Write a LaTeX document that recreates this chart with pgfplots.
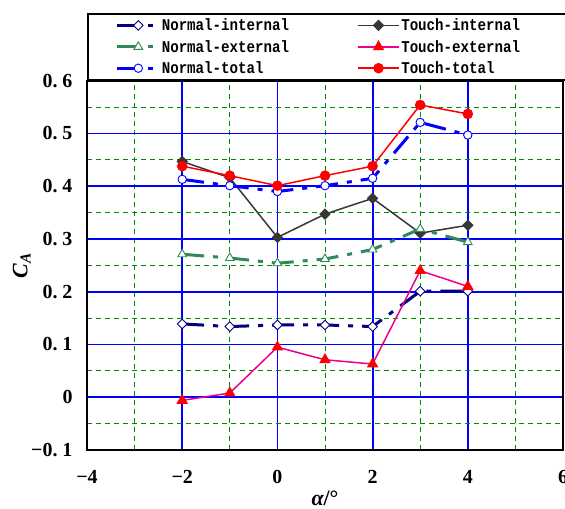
\documentclass[border=0pt]{standalone}
\usepackage{pgfplots}
\pgfplotsset{compat=1.18}
\usepackage{fontspec}
\setmainfont{Liberation Serif}
\newfontfamily\legfont[FakeStretch=0.86]{Liberation Mono}
\definecolor{navyc}{RGB}{0,0,128}
\definecolor{seag}{RGB}{46,139,87}
\definecolor{gridg}{RGB}{0,140,0}
\definecolor{dgray}{RGB}{55,55,55}
\begin{document}
\begin{tikzpicture}
\path[use as bounding box] (-87bp,-59bp) rectangle (478bp,450bp);
\begin{axis}[
  at={(0,0)}, anchor=south west,
  scale only axis, width=476bp, height=369.3bp,
  xmin=-4, xmax=6, ymin=-0.1, ymax=0.6,
  xtick={-4,-2,0,2,4,6}, xticklabels={−4,−2,0,2,4,6},
  ytick={-0.1,0,0.1,0.2,0.3,0.4,0.5,0.6},
  yticklabels={−0.~1,0,0.~1,0.~2,0.~3,0.~4,0.~5,0.~6},
  minor xtick={-3,-1,1,3,5},
  minor ytick={-0.05,0.05,0.15,0.25,0.35,0.45,0.55},
  grid=both,
  major grid style={blue, line width=1.8bp},
  minor grid style={gridg, line width=0.8bp, dash pattern=on 5bp off 4bp},
  major tick length=0pt, minor tick length=0pt,
  axis line style={black, line width=1.6bp},
  tick label style={font=\bfseries\fontsize{20}{20}\selectfont},
  xticklabel style={yshift=-17bp},
  yticklabel style={xshift=-11bp},
  xlabel={\bfseries\fontsize{22}{22}\selectfont{\itshape α}/°},
  xlabel style={at={(axis description cs:0.5,0)}, anchor=north, yshift=-37bp},
  ylabel={\bfseries\fontsize{22}{22}\selectfont\textit{C}\textsubscript{\textit{A}}},
  ylabel style={at={(axis description cs:-0.137,0.5)}, anchor=center},
  legend columns=2,
  legend cell align=left,
  legend style={at={(0,1)}, anchor=south west, draw=black, line width=1.6bp,
    font=\legfont\bfseries\fontsize{16.5}{16.5}\selectfont,
    inner xsep=28bp, inner ysep=3bp, row sep=4bp},
  legend image code/.code={\draw[mark repeat=2,mark phase=2,#1] plot coordinates {(0bp,0bp) (21bp,0bp) (41bp,0bp)};},
]
\addplot[navyc, line width=3bp, dash pattern=on 22bp off 9bp on 5bp off 9bp,
  mark=square*, mark size=3.4bp, mark options={solid, rotate=45, fill=white, draw=navyc, line width=0.9bp}]
  coordinates {(-2,0.139)(-1,0.134)(0,0.137)(1,0.137)(2,0.134)(3,0.201)(4,0.201)};
\addlegendentry{\makebox[193bp][l]{Normal-internal}}
\addplot[dgray, line width=1.5bp, mark=square*, mark size=3.3bp, mark options={solid, rotate=45, fill=dgray, draw=dgray}]
  coordinates {(-2,0.447)(-1,0.416)(0,0.303)(1,0.347)(2,0.377)(3,0.311)(4,0.326)};
\addlegendentry{\makebox[150bp][l]{Touch-internal}}
\addplot[seag, line width=3bp, dash pattern=on 22bp off 9bp on 5bp off 9bp,
  mark=triangle*, mark size=5bp, mark options={solid, fill=white, draw=seag, line width=0.9bp}]
  coordinates {(-2,0.271)(-1,0.264)(0,0.254)(1,0.262)(2,0.280)(3,0.319)(4,0.294)};
\addlegendentry{\makebox[193bp][l]{Normal-external}}
\addplot[magenta, line width=1.5bp, mark=triangle*, mark size=5.2bp, mark options={solid, fill=red, draw=red}]
  coordinates {(-2,-0.006)(-1,0.008)(0,0.095)(1,0.071)(2,0.063)(3,0.240)(4,0.210)};
\addlegendentry{\makebox[150bp][l]{Touch-external}}
\addplot[blue, line width=3bp, dash pattern=on 22bp off 9bp on 5bp off 9bp,
  mark=*, mark size=4.2bp, mark options={solid, fill=white, draw=blue, line width=0.9bp}]
  coordinates {(-2,0.413)(-1,0.401)(0,0.390)(1,0.401)(2,0.415)(3,0.521)(4,0.497)};
\addlegendentry{\makebox[193bp][l]{Normal-total}}
\addplot[red, line width=1.5bp, mark=*, mark size=4.5bp, mark options={solid, fill=red, draw=red}]
  coordinates {(-2,0.438)(-1,0.420)(0,0.401)(1,0.420)(2,0.438)(3,0.554)(4,0.537)};
\addlegendentry{\makebox[150bp][l]{Touch-total}}
\end{axis}
\end{tikzpicture}
\end{document}
